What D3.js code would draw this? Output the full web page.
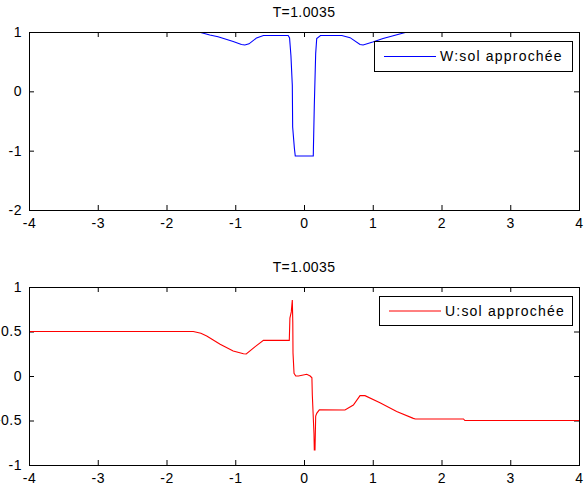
<!DOCTYPE html>
<html>
<head>
<meta charset="utf-8">
<script src="https://cdn.jsdelivr.net/npm/d3@7"></script>
<style>
  body { margin: 0; background: #fff; }
  svg text { font-family: "Liberation Sans", Arial, sans-serif; font-size: 14px; fill: #000; }
  .tick text { letter-spacing: 0.5px; }
</style>
</head>
<body>
<div id="chart"></div>
<script>
// chart data
var titleText = "T=1.0035";
var xTicks = [-4, -3, -2, -1, 0, 1, 2, 3, 4];
var wTicks = [-2, -1, 0, 1];
var uTicks = [-1, -0.5, 0, 0.5, 1];

var wX = [-1.53, -1.37, -1.25, -1.03, -0.91, -0.86, -0.80, -0.69, -0.59, -0.23, -0.21, -0.19, -0.17, -0.165, -0.14, -0.127,
          0.135, 0.137, 0.15, 0.17, 0.185, 0.24, 0.55, 0.67, 0.815, 0.86, 1.0, 1.15, 1.5];
var wY = [1.0, 0.95, 0.92, 0.84, 0.79, 0.78, 0.80, 0.90, 0.94, 0.94, 0.90, 0.60, 0.10, -0.60, -0.96, -1.09,
          -1.09, -0.96, -0.23, 0.64, 0.89, 0.94, 0.94, 0.905, 0.79, 0.78, 0.83, 0.89, 1.0];

var uX = [-4, -1.61, -1.5, -1.415, -1.22, -1.03, -0.88, -0.84, -0.71, -0.59, -0.214, -0.205, -0.185, -0.17, -0.163, -0.16,
          -0.145, -0.12, -0.08, 0.04, 0.09, 0.115, 0.121, 0.145, 0.15, 0.16, 0.17, 0.185, 0.223, 0.596, 0.718, 0.815,
          0.887, 1.105, 1.348, 1.59, 1.62, 2.32, 2.34, 4];
var uY = [0.5, 0.5, 0.48, 0.45, 0.356, 0.28, 0.25, 0.247, 0.33, 0.40, 0.40, 0.65, 0.72, 0.854, 0.60, 0.26,
          0.03, 0.0, 0.0, 0.02, 0.0, -0.02, -0.213, -0.644, -0.83, -0.83, -0.45, -0.42, -0.38, -0.382, -0.326, -0.221,
          -0.221, -0.30, -0.40, -0.476, -0.483, -0.483, -0.5, -0.5];

var width = 584, height = 490;
var left = 29, right = 579;

var svg = d3.select('#chart')
            .append('svg')
            .attr('width', width)
            .attr('height', height);

var x = d3.scaleLinear().domain([-4, 4]).range([left, right]);

// plain ascii labels, no unicode minus, no trailing zeros
function fmt(d) { return String(d); }

function drawPanel(id, top, bottom, yDomain, yTicks, xs, ys, color, label, legendBox) {
	var y = d3.scaleLinear().domain(yDomain).range([bottom, top]);
	var g = svg.append('g');

	g.append('clipPath').attr('id', 'clip' + id)
	 .append('rect')
	 .attr('x', left).attr('y', top)
	 .attr('width', right - left).attr('height', bottom - top);

	// ticks point inwards on all four sides, like the original
	var axes = [
		{ ax: d3.axisBottom(x).tickValues(xTicks).tickSize(-5).tickPadding(8), tr: 'translate(0,' + bottom + ')', labels: true },
		{ ax: d3.axisTop(x).tickValues(xTicks).tickSize(-5), tr: 'translate(0,' + top + ')', labels: false },
		{ ax: d3.axisLeft(y).tickValues(yTicks).tickSize(-5).tickPadding(7), tr: 'translate(' + left + ',0)', labels: true },
		{ ax: d3.axisRight(y).tickValues(yTicks).tickSize(-5), tr: 'translate(' + right + ',0)', labels: false }
	];
	axes.forEach(function (a) {
		var ag = g.append('g').attr('transform', a.tr).call(a.ax.tickSizeOuter(0).tickFormat(fmt));
		ag.select('.domain').remove();
		ag.selectAll('line').attr('stroke', '#000');
		ag.selectAll('text').attr('font-size', null).attr('font-family', null).attr('fill', '#000');
		if (!a.labels) ag.selectAll('text').remove();
	});

	var line = d3.line()
		.x(function (d) { return x(d[0]); })
		.y(function (d) { return y(d[1]); });

	g.append('path')
	 .datum(d3.zip(xs, ys))
	 .attr('clip-path', 'url(#clip' + id + ')')
	 .attr('fill', 'none')
	 .attr('stroke', color)
	 .attr('stroke-width', 1.1)
	 .attr('d', line);

	g.append('rect')
	 .attr('x', left + 0.5).attr('y', top + 0.5)
	 .attr('width', right - left).attr('height', bottom - top)
	 .attr('fill', 'none').attr('stroke', '#000');

	g.append('text')
	 .attr('x', (left + right) / 2).attr('y', top - 15)
	 .attr('text-anchor', 'middle')
	 .attr('font-size', 13)
	 .attr('letter-spacing', 0.4)
	 .text(titleText);

	// legend
	var lb = legendBox;
	g.append('rect')
	 .attr('x', lb[0] + 0.5).attr('y', lb[1] + 0.5)
	 .attr('width', lb[2]).attr('height', lb[3])
	 .attr('fill', '#fff').attr('stroke', '#000');
	g.append('line')
	 .attr('x1', lb[0] + 10).attr('x2', lb[0] + 62)
	 .attr('y1', lb[1] + lb[3] / 2 + 0.5).attr('y2', lb[1] + lb[3] / 2 + 0.5)
	 .attr('stroke', color);
	g.append('text')
	 .attr('x', lb[0] + 66).attr('y', lb[1] + lb[3] / 2 + 5)
	 .attr('letter-spacing', 1.2)
	 .text(label);
}

drawPanel('w', 32, 210, [-2, 1], wTicks, wX, wY, '#0000ff', 'W:sol approchée', [374, 41, 198, 30]);
drawPanel('u', 287, 465, [-1, 1], uTicks, uX, uY, '#ff0000', 'U:sol approchée', [379, 296, 193, 29]);
</script>
</body>
</html>
